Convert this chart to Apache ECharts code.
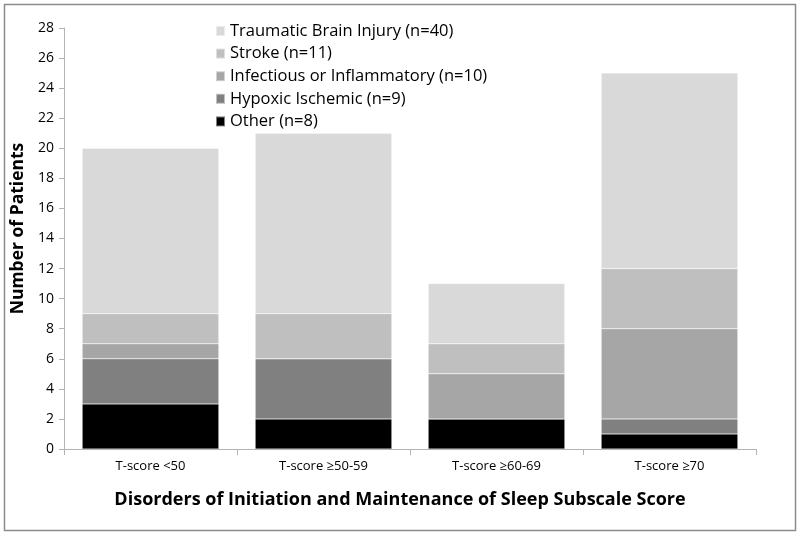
<!DOCTYPE html>
<html><head><meta charset="utf-8">
<script src="https://cdn.jsdelivr.net/npm/echarts@6/dist/echarts.min.js"></script>
<style>html,body{margin:0;padding:0;background:#fff}#c{width:800px;height:536px}</style>
</head><body><div id="c"></div>
<script>
const categories = ['T-score <50', 'T-score ≥50-59', 'T-score ≥60-69', 'T-score ≥70'];
const other = [3, 2, 2, 1];
const hypoxic = [3, 4, 0, 1];
const infectious = [1, 0, 3, 6];
const stroke = [2, 3, 2, 4];
const tbi = [11, 12, 4, 13];
const seriesNames = ['Other (n=8)', 'Hypoxic Ischemic (n=9)', 'Infectious or Inflammatory (n=10)', 'Stroke (n=11)', 'Traumatic Brain Injury (n=40)'];
const yTicks = [0, 28, 2];

const colors = ['#000000', '#808080', '#a6a6a6', '#bfbfbf', '#d9d9d9'];
const values = [other, hypoxic, infectious, stroke, tbi];
const font = 'Open Sans';
const chart = echarts.init(document.getElementById('c'));
chart.setOption({
  animation: false,
  graphic: [{type: 'rect', shape: {x: 4.5, y: 4.5, width: 791, height: 526}, style: {fill: 'none', stroke: '#8c8c8c', lineWidth: 1.5}}],
  legend: {
    orient: 'vertical', left: 210, top: 17, itemWidth: 9, itemHeight: 10, itemGap: 4.6,
    data: seriesNames.slice().reverse(),
    textStyle: {fontFamily: font, fontSize: 16.5, color: '#000', lineHeight: 18},
    icon: 'rect'
  },
  grid: {left: 64, right: 44, top: 28, bottom: 87},
  xAxis: {
    type: 'category', data: categories,
    axisLine: {lineStyle: {color: '#b3b3b3'}},
    axisTick: {show: true, length: 6, lineStyle: {color: '#b3b3b3'}},
    axisLabel: {fontFamily: font, fontSize: 13, color: '#000', margin: 11},
    name: 'Disorders of Initiation and Maintenance of Sleep Subscale Score',
    nameLocation: 'middle', nameGap: 42,
    nameTextStyle: {fontFamily: font, fontSize: 18, fontWeight: 'bold', color: '#000', padding: [0, 20, 0, 0]}
  },
  yAxis: {
    type: 'value', min: yTicks[0], max: yTicks[1], interval: yTicks[2],
    splitLine: {show: false},
    axisLine: {show: true, lineStyle: {color: '#b3b3b3'}},
    axisTick: {show: true, length: 5, lineStyle: {color: '#b3b3b3'}},
    axisLabel: {fontFamily: font, fontSize: 14, color: '#000', margin: 10},
    name: 'Number of Patients', nameLocation: 'middle', nameGap: 36,
    nameTextStyle: {fontFamily: font, fontSize: 17.5, fontWeight: 'bold', color: '#000', padding: [0, 0, 0, 20]}
  },
  series: seriesNames.map((n, i) => ({
    name: n, type: 'bar', stack: 'all', data: values[i], barWidth: '79%',
    itemStyle: {color: colors[i], borderColor: 'rgba(255,255,255,0.5)', borderWidth: 0.5}
  }))
});
</script></body></html>
